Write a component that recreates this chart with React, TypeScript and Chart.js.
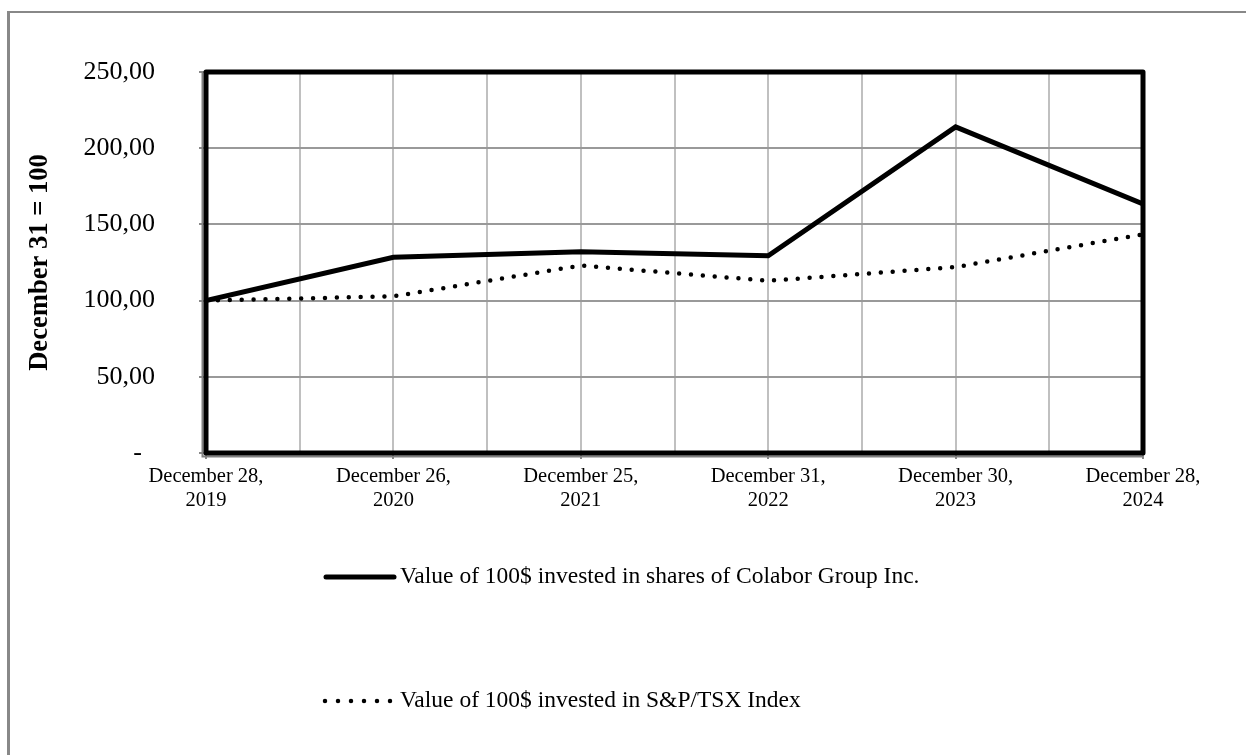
import React, { useEffect, useRef } from 'react';
import { Chart, registerables } from 'chart.js';

Chart.register(...registerables);

const FONT = "'Liberation Serif', 'Times New Roman', serif";

const categories: string[][] = [
  ['December 28,', '2019'],
  ['December 26,', '2020'],
  ['December 25,', '2021'],
  ['December 31,', '2022'],
  ['December 30,', '2023'],
  ['December 28,', '2024'],
];
const colaborValues = [100, 128.4, 132, 129.4, 214, 163.4];
const tsxValues = [100, 102.8, 123, 113, 122, 143.5];
const seriesLabels = [
  'Value of 100$ invested in shares of Colabor Group Inc.',
  'Value of 100$ invested in S&P/TSX Index',
];
const yMin = 0;
const yMax = 250;
const yStep = 50;
const yTitle = 'December 31 = 100';

const framePlugin = {
  id: 'frame',
  beforeDraw(chart: any) {
    const { ctx } = chart;
    ctx.save();
    ctx.fillStyle = '#ffffff';
    ctx.fillRect(0, 0, chart.width, chart.height);
    ctx.fillStyle = '#888888';
    ctx.fillRect(7, 11, 3, chart.height - 11);
    ctx.fillRect(7, 11, chart.width - 7, 2);
    ctx.restore();
  },
  afterDatasetsDraw(chart: any) {
    const { ctx, chartArea: a } = chart;
    ctx.save();
    ctx.strokeStyle = '#808080';
    ctx.lineWidth = 2;
    ctx.beginPath();
    ctx.moveTo(a.left - 3.5, a.top);
    ctx.lineTo(a.left - 3.5, a.bottom + 3.5);
    ctx.lineTo(a.right, a.bottom + 3.5);
    ctx.stroke();
    ctx.strokeStyle = '#000000';
    ctx.lineWidth = 5;
    ctx.lineJoin = 'round';
    ctx.strokeRect(a.left, a.top, a.right - a.left, a.bottom - a.top);
    ctx.restore();
  },
};

const legendPlugin = {
  id: 'stackedLegend',
  afterDraw(chart: any) {
    const { ctx } = chart;
    const rows = [577, 701];
    chart.data.datasets.forEach((ds: any, i: number) => {
      const y = rows[i];
      const dotted = ds.borderDash && ds.borderDash.length;
      ctx.save();
      ctx.strokeStyle = ds.borderColor;
      ctx.lineWidth = ds.borderWidth;
      ctx.lineCap = 'round';
      ctx.setLineDash(dotted ? [0, 13] : []);
      ctx.beginPath();
      ctx.moveTo(dotted ? 325 : 326, y);
      ctx.lineTo(dotted ? 391 : 394, y);
      ctx.stroke();
      ctx.setLineDash([]);
      ctx.fillStyle = '#000000';
      ctx.font = `23.5px ${FONT}`;
      ctx.textBaseline = 'middle';
      ctx.textAlign = 'left';
      ctx.fillText(ds.label, 400, y);
      ctx.restore();
    });
  },
};

export default function App() {
  const ref = useRef<HTMLCanvasElement>(null);

  useEffect(() => {
    Chart.defaults.font.family = FONT;
    const chart = new Chart(ref.current as HTMLCanvasElement, {
      type: 'line',
      data: {
        datasets: [
          {
            label: seriesLabels[0],
            data: colaborValues.map((v, i) => ({ x: i, y: v })),
            borderColor: '#000000',
            backgroundColor: '#000000',
            borderWidth: 5,
            pointRadius: 0,
            tension: 0,
            fill: false,
          },
          {
            label: seriesLabels[1],
            data: tsxValues.map((v, i) => ({ x: i, y: v })),
            borderColor: '#000000',
            backgroundColor: '#000000',
            borderWidth: 4.5,
            borderDash: [0, 11.9],
            borderCapStyle: 'round',
            pointRadius: 0,
            tension: 0,
            fill: false,
          },
        ],
      },
      options: {
        animation: false,
        responsive: false,
        maintainAspectRatio: false,
        devicePixelRatio: 1,
        layout: { padding: { left: 0, top: 72, right: 103, bottom: 0 } },
        plugins: {
          legend: { display: false },
          tooltip: { enabled: false },
          title: { display: false },
        },
        scales: {
          x: {
            type: 'linear',
            min: 0,
            max: categories.length - 1,
            afterFit(scale: any) {
              scale.height = 302;
            },
            border: { display: false },
            grid: {
              color: '#c0c0c0',
              lineWidth: 2,
              tickLength: 6,
              tickColor: (c: any) =>
                c.tick && Number.isInteger(c.tick.value) ? '#888888' : 'rgba(0,0,0,0)',
            },
            ticks: {
              stepSize: 0.5,
              autoSkip: false,
              maxRotation: 0,
              minRotation: 0,
              padding: 6,
              color: '#000000',
              font: { family: FONT, size: 20.5, lineHeight: 1.17 },
              callback: (v: any) => (Number.isInteger(v) ? categories[v] : ''),
            },
          },
          y: {
            type: 'linear',
            min: yMin,
            max: yMax,
            afterFit(scale: any) {
              scale.width = 206;
            },
            border: { display: false },
            grid: {
              color: '#999999',
              lineWidth: 2,
              tickLength: 7,
              tickColor: '#888888',
            },
            ticks: {
              stepSize: yStep,
              padding: 44,
              color: '#000000',
              font: { family: FONT, size: 26 },
              callback: (v: any) => (v === 0 ? '-  ' : Number(v).toFixed(2).replace('.', ',')),
            },
            title: {
              display: true,
              text: yTitle,
              color: '#000000',
              font: { family: FONT, size: 26.6, weight: 'bold' },
              padding: { top: 24, bottom: 0 },
            },
          },
        },
      },
      plugins: [framePlugin, legendPlugin],
    } as any);
    return () => chart.destroy();
  }, []);

  return (
    <div style={{ position: 'fixed', left: 0, top: 0, width: 1246, height: 755, background: '#ffffff' }}>
      <canvas ref={ref} width={1246} height={755} style={{ display: 'block', width: 1246, height: 755 }} />
    </div>
  );
}
